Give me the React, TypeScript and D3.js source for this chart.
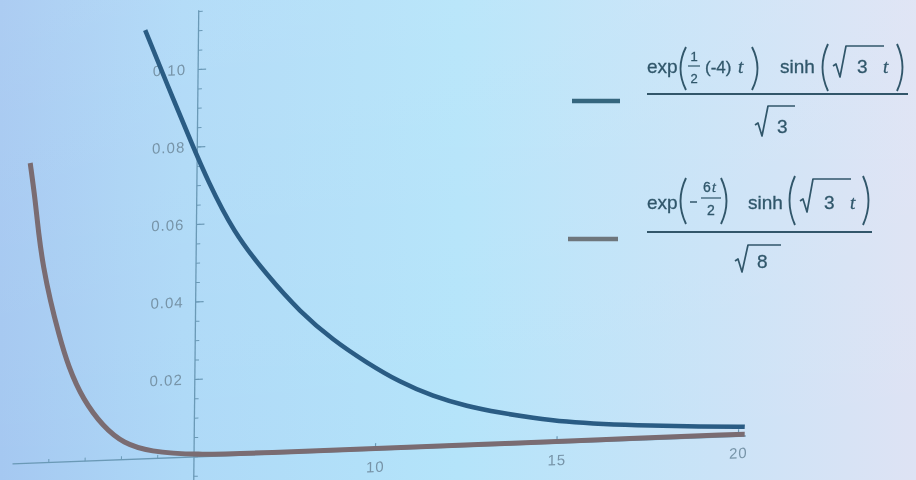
import React from "react";
import * as d3 from "d3";

// values (t on the x axis, f(t) on the y axis)
const blueT = [3.53, 4.15, 4.88, 5.28, 6.01, 6.96, 7.88, 8.8, 9.74, 10.65, 11.57, 12.51, 13.42, 14.33, 15.26, 16.2, 17.58, 18.94, 20.17];
const blueV = [0.1107, 0.0965, 0.0802, 0.0716, 0.0578, 0.0462, 0.0364, 0.0288, 0.0226, 0.0173, 0.0133, 0.0104, 0.0084, 0.0068, 0.0054, 0.0045, 0.0036, 0.0029, 0.0024];

const redT = [0.4, 0.55, 0.65, 0.79, 0.99, 1.23, 1.51, 1.93, 2.49, 3.05, 3.79, 4.98, 7, 10, 13, 16, 20.17];
const redV = [0.0775, 0.0679, 0.0593, 0.0506, 0.0419, 0.0333, 0.0245, 0.0158, 0.0087, 0.0042, 0.0018, 0.0005, 0.0004, 0.0004, 0.0004, 0.0005, 0.0005];

const xTicks = [10, 15, 20];
const xTickLabels = ["10", "15", "20"];
const yTicks = [0.02, 0.04, 0.06, 0.08, 0.1];
const yTickLabels = ["0.02", "0.04", "0.06", "0.08", "0.10"];

const blueColor = "#2b5c84";
const redColor = "#7a6c72";
const axisColor = "#6a99b6";
const labelColor = "#7794a8";
const ink = "#30576b";

function Paren({ x, y1, y2, right }: { x: number; y1: number; y2: number; right?: boolean }) {
  const m = (y1 + y2) / 2;
  const d = right
    ? `M${x},${y1} Q${x + 11},${m} ${x},${y2}`
    : `M${x + 7},${y1} Q${x - 4},${m} ${x + 7},${y2}`;
  return <path d={d} fill="none" stroke={ink} strokeWidth={1.9} />;
}

function Radical({ x, top, bottom, end }: { x: number; top: number; bottom: number; end: number }) {
  const d = `M${x},${bottom - 11} L${x + 3},${bottom - 13} L${x + 7},${bottom} L${x + 13},${top} L${end},${top}`;
  return <path d={d} fill="none" stroke={ink} strokeWidth={1.7} strokeLinejoin="round" />;
}

const sans = "Liberation Sans, Arial, sans-serif";
const serif = "Liberation Serif, Times New Roman, serif";

function T({ x, y, size = 19, italic, anchor, children }: any) {
  return (
    <text x={x} y={y} fontSize={size} fill={ink} textAnchor={anchor || "start"}
      fontFamily={italic ? serif : sans} fontStyle={italic ? "italic" : "normal"}
      stroke={ink} strokeWidth={0.3}>
      {children}
    </text>
  );
}

function Legend() {
  return (
    <g>
      <line x1={572} x2={620} y1={101} y2={101} stroke="#34667e" strokeWidth={4.5} />
      <line x1={568} x2={618} y1={239} y2={239} stroke="#6e767c" strokeWidth={4.5} />

      {/* exp(1/2 (-4) t) sinh(sqrt(3) t) / sqrt(3) */}
      <T x={647} y={73}>exp</T>
      <Paren x={679} y1={47} y2={90} />
      <T x={694} y={61} size={13} anchor="middle">1</T>
      <line x1={688} x2={700} y1={66} y2={66} stroke={ink} strokeWidth={1.2} />
      <T x={694} y={83} size={13} anchor="middle">2</T>
      <T x={705} y={73} size={17}>(-4)</T>
      <T x={738} y={73} italic>t</T>
      <Paren x={752} y1={47} y2={90} right />
      <T x={780} y={73}>sinh</T>
      <Paren x={821} y1={44} y2={91} />
      <Radical x={833} top={46} bottom={77} end={884} />
      <T x={857} y={73}>3</T>
      <T x={883} y={73} italic>t</T>
      <Paren x={897} y1={44} y2={91} right />
      <line x1={647} x2={908} y1={94} y2={94} stroke={ink} strokeWidth={1.8} />
      <Radical x={755} top={106} bottom={136} end={795} />
      <T x={777} y={133}>3</T>

      {/* exp(-6t/2) sinh(sqrt(3) t) / sqrt(8) */}
      <T x={647} y={209}>exp</T>
      <Paren x={679} y1={178} y2={224} />
      <line x1={690} x2={697} y1={202} y2={202} stroke={ink} strokeWidth={1.5} />
      <T x={703} y={192} size={14}>6</T>
      <T x={712} y={192} size={14} italic>t</T>
      <line x1={701} x2={721} y1={198} y2={198} stroke={ink} strokeWidth={1.2} />
      <T x={711} y={215} size={14} anchor="middle">2</T>
      <Paren x={721} y1={178} y2={224} right />
      <T x={748} y={209}>sinh</T>
      <Paren x={788} y1={176} y2={225} />
      <Radical x={800} top={179} bottom={212} end={851} />
      <T x={824} y={209}>3</T>
      <T x={850} y={209} italic>t</T>
      <Paren x={863} y1={176} y2={225} right />
      <line x1={647} x2={872} y1={232} y2={232} stroke={ink} strokeWidth={1.8} />
      <Radical x={735} top={245} bottom={272} end={781} />
      <T x={757} y={268}>8</T>
    </g>
  );
}

export default function App() {
  const x = d3.scaleLinear().domain([5, 20]).range([194, 738.5]);
  const y = d3.scaleLinear().domain([0, 0.1]).range([457, 69.5]);

  const line = d3
    .line<[number, number]>()
    .x((d) => x(d[0]))
    .y((d) => y(d[1]))
    .curve(d3.curveBasis);

  const blue = blueT.map((t, i) => [t, blueV[i]] as [number, number]);
  const red = redT.map((t, i) => [t, redV[i]] as [number, number]);

  const yMinor = d3.range(-5, 24).map((k) => k * 0.005);
  const xMinor = d3.range(1, 21);

  // the photo was taken at a slight angle
  const tilt = `translate(${x(5)},${y(0)}) matrix(1,-0.038,-0.0106,1,0,0) translate(${-x(5)},${-y(0)})`;

  return (
    <svg width={916} height={480} style={{ position: "fixed", left: 0, top: 0 }}>
      <defs>
        <linearGradient id="bg" x1="0" x2="1" y1="0" y2="0">
          <stop offset="0" stopColor="#a5c8f1" />
          <stop offset="0.2" stopColor="#aed9f7" />
          <stop offset="0.5" stopColor="#b4e4fa" />
          <stop offset="0.78" stopColor="#cae3f7" />
          <stop offset="1" stopColor="#dee3f4" />
        </linearGradient>
        <linearGradient id="bgv" x1="0" x2="0" y1="0" y2="1">
          <stop offset="0" stopColor="#ffffff" stopOpacity={0.08} />
          <stop offset="1" stopColor="#ffffff" stopOpacity={0} />
        </linearGradient>
        <filter id="soft" x="-5%" y="-5%" width="110%" height="110%">
          <feGaussianBlur stdDeviation={0.6} />
        </filter>
      </defs>
      <rect width={916} height={480} fill="url(#bg)" />
      <rect width={916} height={480} fill="url(#bgv)" />

      <g filter="url(#soft)">
        <g transform={tilt}>
          {/* y axis */}
          <line x1={x(5)} x2={x(5)} y1={y(-0.006)} y2={y(0.1153)} stroke={axisColor} strokeWidth={1.3} />
          {yMinor.map((v) => (
            <line key={v} x1={x(5)} x2={x(5) + 4} y1={y(v)} y2={y(v)} stroke={axisColor} strokeWidth={1} />
          ))}
          {yTicks.map((v, i) => (
            <g key={v}>
              <line x1={x(5)} x2={x(5) + 8} y1={y(v)} y2={y(v)} stroke={axisColor} strokeWidth={1.2} />
              <text x={x(5) - 12} y={y(v) + 5} textAnchor="end" fontSize={15} letterSpacing={1}
                fontFamily={sans} fill={labelColor}>
                {yTickLabels[i]}
              </text>
            </g>
          ))}

          {/* x axis */}
          <line x1={x(0)} x2={x(20.2)} y1={y(0)} y2={y(0)} stroke={axisColor} strokeWidth={1.4} />
          {xMinor.map((t) => (
            <line key={t} x1={x(t)} x2={x(t)} y1={y(0)} y2={y(0) - 3.5} stroke={axisColor} strokeWidth={1} />
          ))}
          {xTicks.map((t, i) => (
            <g key={t}>
              <line x1={x(t)} x2={x(t)} y1={y(0)} y2={y(0) - 7} stroke={axisColor} strokeWidth={1.2} />
              <text x={x(t)} y={y(0) + 22} textAnchor="middle" fontSize={15} letterSpacing={1}
                fontFamily={sans} fill={labelColor}>
                {xTickLabels[i]}
              </text>
            </g>
          ))}

          <path d={line(red) || ""} fill="none" stroke={redColor} strokeWidth={5} />
          <path d={line(blue) || ""} fill="none" stroke={blueColor} strokeWidth={4.5} />
        </g>

        <Legend />
      </g>
    </svg>
  );
}
